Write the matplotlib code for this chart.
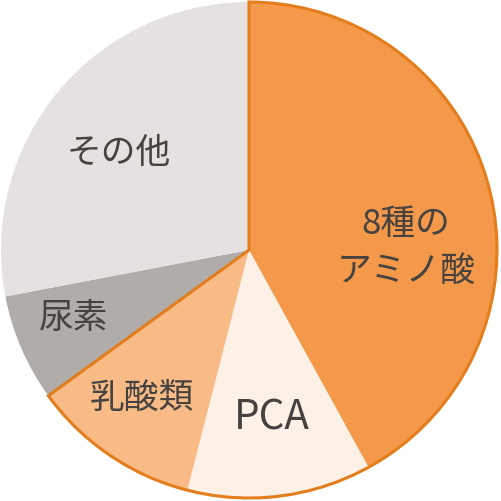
import matplotlib.pyplot as plt
from matplotlib.patches import Wedge

plt.rcParams['font.family'] = ['Noto Sans CJK JP', 'DejaVu Sans']

labels = ['8種の\nアミノ酸', 'PCA', '乳酸類', '尿素', 'その他']
values = [42, 12, 11, 7, 28]
colors = ['#f4994a', '#fdf0e6', '#f8bb86', '#b0aca9', '#e4e1e0']
# label centres in pixel coordinates of the 501x502 image
label_px = [(406, 248), (272, 418), (142, 398), (74, 319), (119, 153)]
label_size = [25, 29, 25, 25, 25]

W, H = 501, 502
cx, cy, R = 249, 251, 248

fig = plt.figure(figsize=(W / 100, H / 100), dpi=100)
ax = fig.add_axes([0, 0, 1, 1])
ax.pie(values, colors=colors, startangle=90, counterclock=False,
       radius=1, wedgeprops=dict(linewidth=0))

# orange outline around the orange group of slices
span = sum(values[:3]) / sum(values) * 360
ax.add_patch(Wedge((0, 0), 1, 90 - span, 90, fill=False,
                   edgecolor='#e47d1c', linewidth=2.2))

for lab, (px, py), fs in zip(labels, label_px, label_size):
    ax.text((px - cx) / R, (cy - py) / R, lab, ha='center', va='center',
            fontsize=fs, color='#454240', linespacing=1.42)

ax.set_xlim(-cx / R, (W - cx) / R)
ax.set_ylim(-(H - cy) / R, cy / R)
ax.set_aspect('auto')
ax.axis('off')

fig.savefig('out.png', dpi=100)
